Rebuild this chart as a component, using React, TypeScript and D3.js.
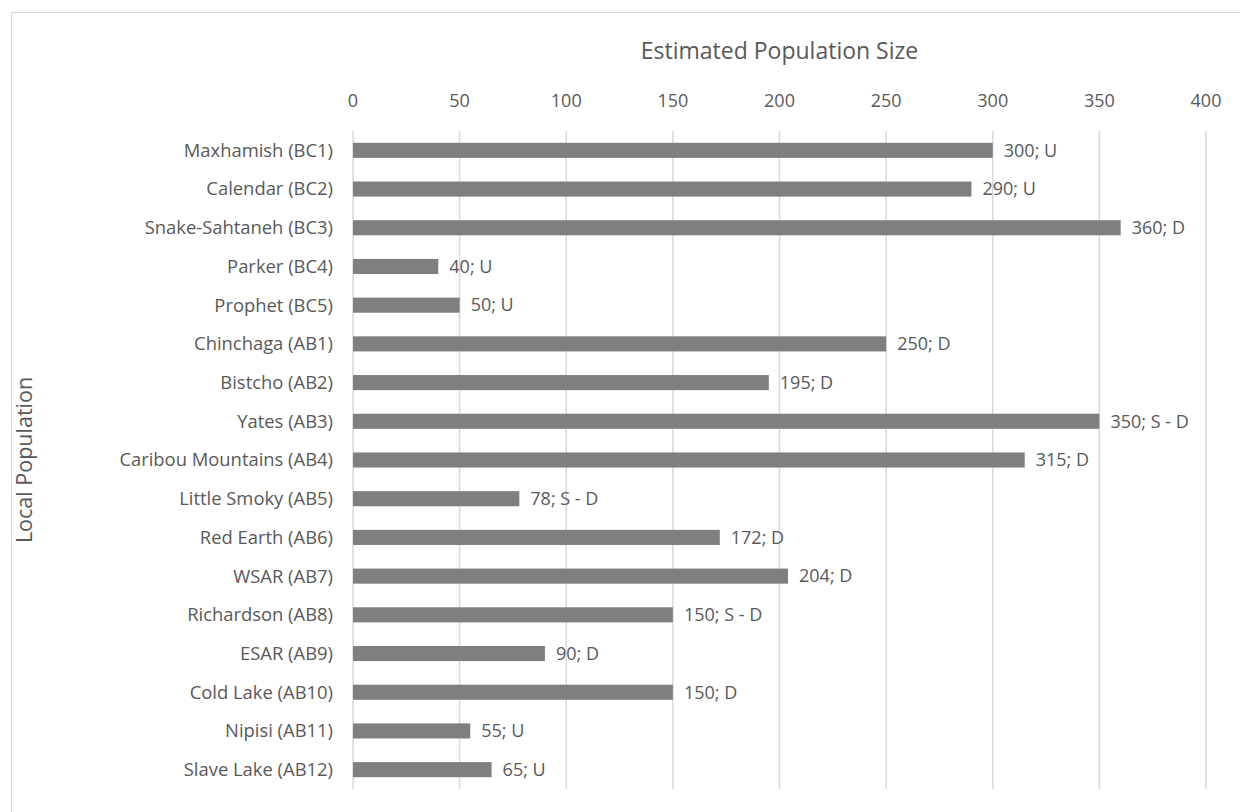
import * as d3 from 'd3';

const categories = [
  'Maxhamish (BC1)', 'Calendar (BC2)', 'Snake-Sahtaneh (BC3)', 'Parker (BC4)', 'Prophet (BC5)',
  'Chinchaga (AB1)', 'Bistcho (AB2)', 'Yates (AB3)', 'Caribou Mountains (AB4)', 'Little Smoky (AB5)',
  'Red Earth (AB6)', 'WSAR (AB7)', 'Richardson (AB8)', 'ESAR (AB9)', 'Cold Lake (AB10)',
  'Nipisi (AB11)', 'Slave Lake (AB12)',
];
const populations = [300, 290, 360, 40, 50, 250, 195, 350, 315, 78, 172, 204, 150, 90, 150, 55, 65];
const trends = ['U', 'U', 'D', 'U', 'U', 'D', 'D', 'S - D', 'D', 'S - D', 'D', 'D', 'S - D', 'D', 'D', 'U', 'U'];
const xTicks = [0, 50, 100, 150, 200, 250, 300, 350, 400];

const W = 1240;
const H = 812;
const margin = { top: 131, right: 34, bottom: 23, left: 353 };
const font = '"Open Sans", sans-serif';
const textColor = '#595959';

export default function App() {
  const innerW = W - margin.left - margin.right;
  const innerH = H - margin.top - margin.bottom;

  const x = d3.scaleLinear().domain([0, 400]).range([0, innerW]);
  const y = d3.scaleBand().domain(categories).range([0, innerH]).paddingInner(0.61).paddingOuter(0.305);

  return (
    <svg width={W} height={H} style={{ position: 'absolute', left: 0, top: 0, background: '#fff' }}>
      <rect x={11.5} y={12.5} width={W} height={H} fill="none" stroke="#d9d9d9" strokeWidth={1} />
      <text x={margin.left + innerW / 2} y={59} textAnchor="middle" fontFamily={font} fontSize={23} fill={textColor}>
        Estimated Population Size
      </text>
      <text
        transform={`translate(32,${margin.top + innerH / 2}) rotate(-90)`}
        textAnchor="middle"
        fontFamily={font}
        fontSize={21.5}
        fill={textColor}
      >
        Local Population
      </text>
      <g transform={`translate(${margin.left},${margin.top})`}>
        {xTicks.map((t) => (
          <g key={t}>
            <line x1={x(t)} x2={x(t)} y1={0} y2={innerH} stroke="#d9d9d9" strokeWidth={1.5} />
            <text x={x(t)} y={-24} textAnchor="middle" fontFamily={font} fontSize={18} fill={textColor}>
              {t}
            </text>
          </g>
        ))}
        {categories.map((c, i) => (
          <g key={c}>
            <rect x={0} y={y(c)} width={x(populations[i])} height={y.bandwidth()} fill="#7f7f7f" />
            <text
              x={-20}
              y={y(c)! + y.bandwidth() / 2}
              dy="0.35em"
              textAnchor="end"
              fontFamily={font}
              fontSize={18.4}
              fill={textColor}
            >
              {c}
            </text>
            <text
              x={x(populations[i]) + 11}
              y={y(c)! + y.bandwidth() / 2}
              dy="0.35em"
              fontFamily={font}
              fontSize={18}
              fill={textColor}
            >
              {`${populations[i]}; ${trends[i]}`}
            </text>
          </g>
        ))}
      </g>
    </svg>
  );
}
